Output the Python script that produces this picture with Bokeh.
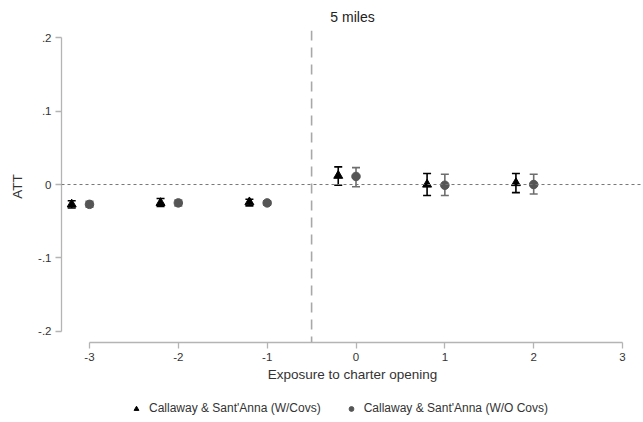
from bokeh.plotting import figure
from bokeh.layouts import column
from bokeh.models import (ColumnDataSource, Whisker, TeeHead, Span, Legend, LegendItem,
                          Range1d, FixedTicker)
from bokeh.embed import file_html
from bokeh.resources import INLINE

# Event-time ATT estimates, 5-mile exposure radius
periods = [-3, -2, -1, 0, 1, 2]

att_cov = [-0.027, -0.025, -0.024, 0.012, 0.000, 0.002]
lo_cov = [-0.032, -0.030, -0.029, -0.001, -0.015, -0.011]
hi_cov = [-0.022, -0.019, -0.020, 0.024, 0.015, 0.015]

att_nocov = [-0.027, -0.025, -0.025, 0.011, -0.001, 0.000]
lo_nocov = [-0.031, -0.029, -0.028, -0.003, -0.015, -0.013]
hi_nocov = [-0.023, -0.021, -0.022, 0.023, 0.014, 0.014]

x_ticks = [-3, -2, -1, 0, 1, 2, 3]
x_tick_labels = {-3: "-3", -2: "-2", -1: "-1", 0: "0", 1: "1", 2: "2", 3: "3"}
y_ticks = [-0.2, -0.1, 0, 0.1, 0.2]
y_tick_labels = {-0.2: "-.2", -0.1: "-.1", 0: "0", 0.1: ".1", 0.2: ".2"}

label_cov = "Callaway & Sant'Anna (W/Covs)"
label_nocov = "Callaway & Sant'Anna (W/O Covs)"

FONT = "Liberation Sans"
AXIS_GREY = "#b4b4b4"
TEXT = "#333333"
COV_COLOR = "black"
NOCOV_COLOR = "#555555"
NOCOV_BAR = "#6e6e6e"

shift = 0.2  # horizontal dodge for the covariate-adjusted series
src_cov = ColumnDataSource(dict(x=[t - shift for t in periods], y=att_cov, lo=lo_cov, hi=hi_cov))
src_nocov = ColumnDataSource(dict(x=periods, y=att_nocov, lo=lo_nocov, hi=hi_nocov))

p = figure(width=643, height=384, output_backend="svg", toolbar_location=None,
           x_range=Range1d(-3.315, 3.236), y_range=Range1d(-0.215, 0.2096),
           min_border_left=61, min_border_right=0, min_border_top=30, min_border_bottom=0,
           title="5 miles")
p.background_fill_color = "white"
p.border_fill_color = "white"
p.outline_line_color = None
p.grid.visible = False

p.title.align = "center"
p.title.text_font = FONT
p.title.text_font_size = "14px"
p.title.text_font_style = "normal"
p.title.text_color = "#222222"
p.title.standoff = 12

# reference lines
p.add_layout(Span(location=0, dimension="width", line_color="#777777",
                  line_dash="3 3", line_width=1))
p.add_layout(Span(location=-0.5, dimension="height", line_color="#a8a8a8",
                  line_dash="10 7", line_width=1.6))

# confidence intervals
p.add_layout(Whisker(source=src_cov, base="x", lower="lo", upper="hi",
                     line_color=COV_COLOR, line_width=1.6,
                     lower_head=TeeHead(size=8, line_color=COV_COLOR, line_width=1.6),
                     upper_head=TeeHead(size=8, line_color=COV_COLOR, line_width=1.6)))
p.add_layout(Whisker(source=src_nocov, base="x", lower="lo", upper="hi",
                     line_color=NOCOV_BAR, line_width=1.6,
                     lower_head=TeeHead(size=8, line_color=NOCOV_BAR, line_width=1.6),
                     upper_head=TeeHead(size=8, line_color=NOCOV_BAR, line_width=1.6)))

p.scatter("x", "y", source=src_cov, marker="triangle", size=9,
          fill_color=COV_COLOR, line_color=COV_COLOR)
p.scatter("x", "y", source=src_nocov, marker="circle", size=8.5,
          fill_color=NOCOV_COLOR, line_color=NOCOV_COLOR)

# axes
for ax in (p.xaxis[0], p.yaxis[0]):
    ax.axis_line_color = AXIS_GREY
    ax.axis_line_width = 1.3
    ax.major_tick_line_color = AXIS_GREY
    ax.major_tick_line_width = 1.3
    ax.major_tick_out = 6
    ax.major_tick_in = 0
    ax.minor_tick_line_color = None
    ax.major_label_text_font = FONT
    ax.major_label_text_font_size = "11.5px"
    ax.major_label_text_color = TEXT
    ax.axis_label_text_font = FONT
    ax.axis_label_text_font_size = "13.5px"
    ax.axis_label_text_font_style = "normal"
    ax.axis_label_text_color = TEXT

p.xaxis.ticker = FixedTicker(ticks=x_ticks)
p.xaxis.bounds = (-3, 3)
p.xaxis.major_label_overrides = x_tick_labels
p.xaxis.axis_label = "Exposure to charter opening"
p.xaxis.major_label_standoff = 4
p.xaxis.axis_label_standoff = 3

p.yaxis.ticker = FixedTicker(ticks=y_ticks)
p.yaxis.bounds = (-0.2, 0.2)
p.yaxis.major_label_overrides = y_tick_labels
p.yaxis.major_label_orientation = "horizontal"
p.yaxis.axis_label = "ATT"
p.yaxis.major_label_standoff = 4
p.yaxis.axis_label_standoff = 10

# legend strip: key renderers reuse the series sources; the strip's y-range
# sits well above every estimate, so only the legend keys are drawn
leg = figure(width=643, height=38, output_backend="svg", toolbar_location=None,
             x_range=Range1d(0, 1), y_range=Range1d(10, 11),
             min_border=0, x_axis_type=None, y_axis_type=None)
leg.outline_line_color = None
leg.grid.visible = False
k_cov = leg.scatter("x", "y", source=src_cov, marker="triangle", size=9,
                    fill_color=COV_COLOR, line_color=COV_COLOR)
k_nocov = leg.scatter("x", "y", source=src_nocov, marker="circle", size=8.5,
                      fill_color=NOCOV_COLOR, line_color=NOCOV_COLOR)
legend = Legend(items=[LegendItem(label=label_cov, renderers=[k_cov], index=0),
                       LegendItem(label=label_nocov, renderers=[k_nocov], index=0)],
                orientation="horizontal", location=(69, 7),
                border_line_color=None, background_fill_alpha=0,
                label_text_font=FONT, label_text_font_size="12px",
                label_text_color=TEXT, glyph_width=12, glyph_height=13,
                spacing=24, padding=0, margin=0, label_standoff=7)
leg.add_layout(legend)

open("out.html", "w").write(file_html(column(p, leg, spacing=0), INLINE))
